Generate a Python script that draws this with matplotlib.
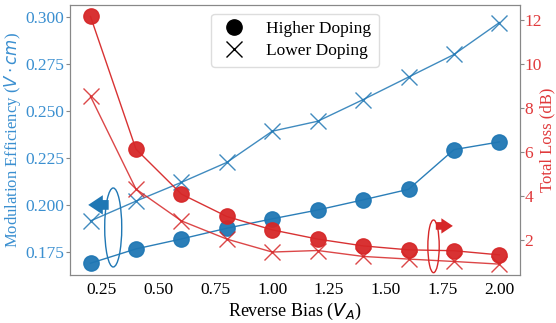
import numpy as np
import matplotlib.pyplot as plt
from matplotlib.patches import Ellipse
from matplotlib.lines import Line2D

plt.rcParams['font.family'] = ['Liberation Serif', 'DejaVu Serif']
plt.rcParams['mathtext.fontset'] = 'dejavusans'

# Données
bias = [0.2, 0.4, 0.6, 0.8, 1.0, 1.2, 1.4, 1.6, 1.8, 2.0]
eff_high = [0.169, 0.1766, 0.1819, 0.1876, 0.1926, 0.1973, 0.2027, 0.2083, 0.2294, 0.2335]
eff_low = [0.1915, 0.202, 0.212, 0.2226, 0.2392, 0.2445, 0.256, 0.268, 0.280, 0.297]
loss_high = [12.17, 6.13, 4.08, 3.06, 2.45, 2.03, 1.72, 1.54, 1.50, 1.31]
loss_low = [8.53, 4.31, 2.86, 2.03, 1.44, 1.51, 1.24, 1.12, 1.01, 0.89]

blue = '#1f77b4'
blue_txt = '#3a8fd0'
red = '#d62728'
red_txt = '#e0393b'

fig, ax = plt.subplots(figsize=(5.56, 3.23), dpi=100)
fig.subplots_adjust(left=0.126, right=0.935, bottom=0.149, top=0.985)
ax2 = ax.twinx()

ax.plot(bias, eff_high, color=blue, lw=1, marker='o', ms=11, alpha=0.95)
ax.plot(bias, eff_low, color=blue, lw=1, marker='x', ms=11, mew=1, alpha=0.85)
ax2.plot(bias, loss_high, color=red, lw=1, marker='o', ms=11, alpha=0.95)
ax2.plot(bias, loss_low, color=red, lw=1, marker='x', ms=11, mew=1, alpha=0.85)

ax.set_ylim(0.1628, 0.3064)
ax2.set_ylim(0.4, 12.7)

# Ellipses et flèches
ax.add_patch(Ellipse((0.30, 0.188), 0.075, 0.042, fill=False, ec=blue, lw=1))
ax.annotate('', xy=(0.19, 0.200), xytext=(0.28, 0.200),
            arrowprops=dict(arrowstyle='simple,head_width=1.0,head_length=0.75,tail_width=0.5',
                            mutation_scale=14, color=blue, lw=0, shrinkA=0, shrinkB=0))
ax2.add_patch(Ellipse((1.71, 1.7), 0.05, 2.4, fill=False, ec=red, lw=1))
ax2.annotate('', xy=(1.795, 2.63), xytext=(1.72, 2.63),
             arrowprops=dict(arrowstyle='simple,head_width=1.0,head_length=0.75,tail_width=0.5',
                             mutation_scale=11, color=red, lw=0, shrinkA=0, shrinkB=0))

ax.set_xlabel('Reverse Bias ($V_A$)', fontsize=13, labelpad=2)
ax.set_ylabel(r'Modulation Efficiency ($V \cdot cm$)', fontsize=12, color=blue_txt, labelpad=2)
ax2.set_ylabel('Total Loss (dB)', fontsize=12, color=red_txt)
ax2.yaxis.set_label_coords(1.043, 0.5)

ax.set_xticks([0.25, 0.5, 0.75, 1.0, 1.25, 1.5, 1.75, 2.0])
ax.set_yticks([0.175, 0.2, 0.225, 0.25, 0.275, 0.3])
ax2.set_yticks([2, 4, 6, 8, 10, 12])
ax.tick_params(axis='x', labelsize=12.5, length=0, pad=5)
ax.tick_params(axis='y', labelsize=12.5, length=3, color='#888888', width=0.8,
               labelcolor=blue_txt, pad=1)
ax2.tick_params(axis='y', labelsize=12.5, length=3, color='#888888', width=0.8,
                labelcolor=red_txt, pad=0.5)
for a in (ax, ax2):
    for s in a.spines.values():
        s.set_color('#888888')

handles = [Line2D([], [], ls='none', marker='o', color='black', ms=11),
           Line2D([], [], ls='none', marker='x', color='black', ms=11, mew=1)]
ax.legend(handles, ['Higher Doping', 'Lower Doping'], loc='upper center',
          fontsize=12.5, framealpha=1, edgecolor='#dddddd', borderpad=0.45,
          handlelength=1.7, handletextpad=1.0, labelspacing=0.3)

plt.savefig('out.png', dpi=100)
